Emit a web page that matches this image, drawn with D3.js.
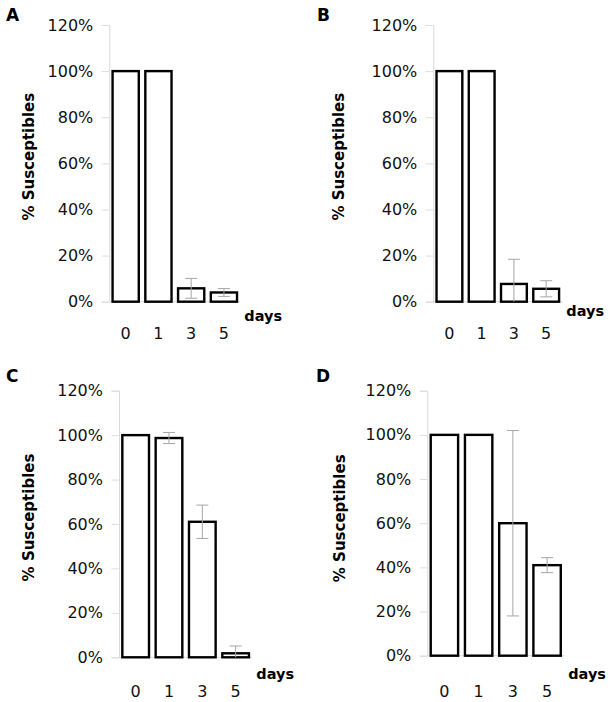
<!DOCTYPE html>
<html><head><meta charset="utf-8">
<script src="https://cdn.jsdelivr.net/npm/d3@7"></script>
<style>
html,body{margin:0;padding:0;background:#fff;}
svg{display:block;}
</style></head>
<body>
<svg id="chart" width="611" height="702"></svg>
<script>
// ---- data ----
const days = ["0", "1", "3", "5"];
const yTicks = [0, 20, 40, 60, 80, 100, 120];
const panelLetters = ["A", "B", "C", "D"];
const valuesA = [100, 100, 5.8, 4.0];
const errorsA = [0, 0, 4.3, 1.7];
const valuesB = [100, 100, 7.7, 5.6];
const errorsB = [0, 0, 10.7, 3.5];
const valuesC = [100, 98.7, 61, 1.8];
const errorsC = [0, 2.5, 7.5, 3.3];
const valuesD = [100, 100, 60, 41];
const errorsD = [0, 0, 42, 3.4];
const yTitle = "% Susceptibles";
const xTitle = "days";

// ---- layout ----
const layouts = [
  {x0: 109.3, x1: 240.3, yTop: 25, yBot: 301.7, lx: 6, ly: 20.7, tx: 28.5, ty: 156.7, dy: 316, xl: 333.5},
  {x0: 433.3, x1: 562.3, yTop: 25, yBot: 301.7, lx: 317, ly: 20.7, tx: 339, ty: 156.7, dy: 311, xl: 333.5},
  {x0: 119, x1: 252.3, yTop: 390.7, yBot: 657.3, lx: 6, ly: 382.3, tx: 28.3, ty: 517.5, dy: 673.5, xl: 691.7},
  {x0: 427.3, x1: 564.2, yTop: 390.7, yBot: 655.7, lx: 316, ly: 382.3, tx: 340, ty: 518.3, dy: 673.5, xl: 691.7}
];
const series = [[valuesA, errorsA], [valuesB, errorsB], [valuesC, errorsC], [valuesD, errorsD]];

const svg = d3.select("#chart");
const FONT = "'DejaVu Sans', sans-serif";

series.forEach(([vals, errs], i) => {
  const L = layouts[i];
  const g = svg.append("g");
  const x = d3.scaleBand().domain(days).range([L.x0, L.x1]).paddingInner(0.2).paddingOuter(0.1);
  const y = d3.scaleLinear().domain([0, 120]).range([L.yBot, L.yTop]);

  // y axis
  const yAxis = d3.axisLeft(y).tickValues(yTicks).tickFormat(d => d + "%").tickSize(7.5).tickPadding(8.5);
  const ya = g.append("g").attr("transform", `translate(${L.x0},0)`).call(yAxis);
  ya.select(".domain").attr("stroke", "#d9d9d9").attr("stroke-width", 1);
  ya.selectAll(".tick line").attr("stroke", "#dedede").attr("stroke-width", 1);
  ya.selectAll(".tick text").attr("font-family", FONT).attr("font-size", 16).attr("fill", "#111");

  // x axis baseline
  const xAxis = d3.axisBottom(x).tickSize(0).tickFormat("");
  const xa = g.append("g").attr("transform", `translate(0,${L.yBot})`).call(xAxis);
  xa.select(".domain").attr("stroke", "#d9d9d9").attr("stroke-width", 1)
    .attr("d", `M${L.x0},0H${L.x1}`);

  // x labels
  g.selectAll("text.xl").data(days).join("text").attr("class", "xl")
    .attr("x", d => x(d) + x.bandwidth() / 2).attr("y", L.xl)
    .attr("dy", "0.36em").attr("text-anchor", "middle")
    .attr("font-family", FONT).attr("font-size", 16).attr("fill", "#111")
    .text(d => d);

  // bars
  g.selectAll("rect.bar").data(vals).join("rect").attr("class", "bar")
    .attr("x", (d, j) => x(days[j]))
    .attr("y", d => y(d))
    .attr("width", x.bandwidth())
    .attr("height", d => y(0) - y(d))
    .attr("fill", "#fff").attr("stroke", "#000").attr("stroke-width", 2.4);

  // error bars (clipped at axis minimum, as in the original)
  const eg = g.append("g").attr("stroke", "#a6a6a6").attr("stroke-width", 1).attr("fill", "none");
  vals.forEach((v, j) => {
    const e = errs[j];
    if (!e) return;
    const cx = x(days[j]) + x.bandwidth() / 2;
    const cw = 6;
    const lo = v - e, hi = v + e;
    const loC = Math.max(0, lo);
    eg.append("line").attr("x1", cx).attr("x2", cx).attr("y1", y(loC)).attr("y2", y(hi));
    eg.append("line").attr("x1", cx - cw).attr("x2", cx + cw).attr("y1", y(hi)).attr("y2", y(hi));
    if (lo >= 0) {
      eg.append("line").attr("x1", cx - cw).attr("x2", cx + cw).attr("y1", y(lo)).attr("y2", y(lo));
    }
  });

  // y title
  g.append("text").attr("transform", `translate(${L.tx},${L.ty}) rotate(-90)`)
    .attr("text-anchor", "middle").attr("dy", "0.35em")
    .attr("font-family", FONT).attr("font-weight", "bold").attr("font-size", 15).attr("fill", "#000")
    .text(yTitle);

  // x title
  g.append("text").attr("x", L.x1 + 4).attr("y", L.dy).attr("dy", "0.35em")
    .attr("font-family", FONT).attr("font-weight", "bold").attr("font-size", 14.5).attr("fill", "#000")
    .text(xTitle);

  // panel letter
  g.append("text").attr("x", L.lx).attr("y", L.ly)
    .attr("font-family", FONT).attr("font-weight", "bold").attr("font-size", 17).attr("fill", "#000")
    .text(panelLetters[i]);
});
</script>
</body></html>
